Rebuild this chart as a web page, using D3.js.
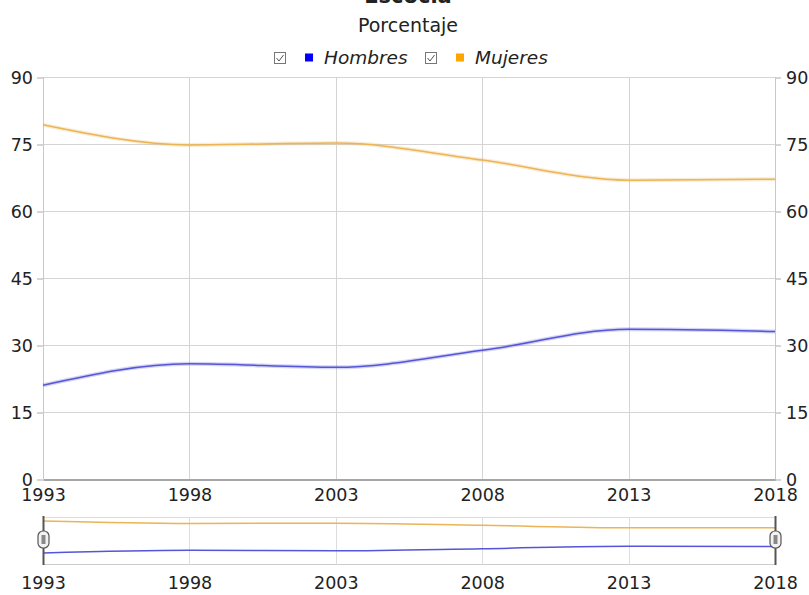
<!DOCTYPE html>
<html>
<head>
<meta charset="utf-8">
<script src="https://cdn.jsdelivr.net/npm/d3@7"></script>
<style>
  body { margin: 0; background: #fff; }
  text { font-family: "DejaVu Sans", Verdana, sans-serif; fill: #222; }
</style>
</head>
<body>
<div id="chart"></div>
<script>
var years = [1993, 1998, 2003, 2008, 2013, 2018];
var hombres = [21.0, 25.8, 25.0, 28.8, 33.5, 33.0];
var mujeres = [79.3, 74.8, 75.2, 71.4, 66.9, 67.1];
var yTicks = [0, 15, 30, 45, 60, 75, 90];
var seriesNames = ["Hombres", "Mujeres"];
var seriesColors = ["#0000ff", "#ffa500"];
var lineColors = ["#5555d8", "#ebb454"];

var svgWidth = 809, svgHeight = 595;
var svg = d3.select("#chart").append("svg")
  .attr("width", svgWidth)
  .attr("height", svgHeight);

var x = d3.scaleLinear().domain([1993, 2018]).range([43, 775]);
var y = d3.scaleLinear().domain([0, 90]).range([479, 77]);

// title (cut at top) and subtitle
svg.append("text").attr("x", 408).attr("y", 3)
  .attr("text-anchor", "middle").attr("font-size", 21).attr("font-weight", "bold")
  .text("Escocia");
svg.append("text").attr("x", 408).attr("y", 32)
  .attr("text-anchor", "middle").attr("font-size", 19)
  .text("Porcentaje");

// legend
var legendX = [274, 425];
seriesNames.forEach(function(name, i) {
  var g = svg.append("g").attr("transform", `translate(${legendX[i]}, 52)`);
  g.append("rect").attr("x", 0.5).attr("y", 0.5).attr("width", 11).attr("height", 11)
    .attr("fill", "#fff").attr("stroke", "#777");
  g.append("path").attr("d", "M2.5,6 L5,9 L9.5,3")
    .attr("fill", "none").attr("stroke", "#555").attr("stroke-width", 1);
  g.append("rect").attr("x", 31).attr("y", 1.5).attr("width", 8).attr("height", 8)
    .attr("fill", seriesColors[i]);
  g.append("text").attr("x", 50).attr("y", 12)
    .attr("font-size", 18.5).attr("font-style", "italic").text(name);
});

// grid
var grid = svg.append("g");
grid.selectAll(".hg").data(yTicks.slice(1)).enter().append("line")
  .attr("x1", 43).attr("x2", 775)
  .attr("y1", d => y(d) + 0.5).attr("y2", d => y(d) + 0.5)
  .attr("stroke", "#d4d4d4");
grid.selectAll(".vg").data(years).enter().append("line")
  .attr("x1", d => Math.round(x(d)) + 0.5).attr("x2", d => Math.round(x(d)) + 0.5)
  .attr("y1", 77).attr("y2", 479)
  .attr("stroke", "#d4d4d4");

// axes
var leftAxis = d3.axisLeft(y).tickValues(yTicks).tickSize(6).tickPadding(4);
var rightAxis = d3.axisRight(y).tickValues(yTicks).tickSize(6).tickPadding(5);
var bottomAxis = d3.axisBottom(x).tickValues(years).tickFormat(d3.format("d")).tickSize(0).tickPadding(9);

function styleAxis(g) {
  g.select(".domain").attr("stroke", "#c8c8c8");
  g.selectAll(".tick line").attr("stroke", "#aaa");
  g.selectAll(".tick text").attr("font-size", 17.5).attr("fill", "#222")
    .attr("font-family", "DejaVu Sans, Verdana, sans-serif");
}
svg.append("g").attr("transform", "translate(43,0.5)").call(leftAxis).call(styleAxis)
  .call(g => g.select(".domain").remove());
svg.append("g").attr("transform", "translate(775,0.5)").call(rightAxis).call(styleAxis)
  .call(g => g.select(".domain").remove());
svg.append("line").attr("x1", 43.5).attr("x2", 43.5).attr("y1", 77).attr("y2", 479).attr("stroke", "#c8c8c8");
svg.append("line").attr("x1", 775.5).attr("x2", 775.5).attr("y1", 77).attr("y2", 479).attr("stroke", "#c8c8c8");
svg.append("g").attr("transform", "translate(0,479.5)").call(bottomAxis).call(styleAxis)
  .call(g => g.select(".domain").attr("stroke", "#888").attr("stroke-width", 1.5));

// lines
var data = [hombres, mujeres];
var line = d3.line()
  .x((d, i) => x(years[i]))
  .y(d => y(d))
  .curve(d3.curveMonotoneX);
data.forEach(function(s, i) {
  svg.append("path").datum(s).attr("d", line)
    .attr("fill", "none").attr("stroke", lineColors[i]).attr("stroke-opacity", 0.25)
    .attr("stroke-width", 4);
  svg.append("path").datum(s).attr("d", line)
    .attr("fill", "none").attr("stroke", lineColors[i]).attr("stroke-width", 1.5);
});

// navigator
var allVals = hombres.concat(mujeres);
var yNav = d3.scaleLinear().domain(d3.extent(allVals)).range([553, 521]);
var navLine = d3.line()
  .x((d, i) => x(years[i]))
  .y(d => yNav(d))
  .curve(d3.curveMonotoneX);
svg.append("line").attr("x1", 43).attr("x2", 775).attr("y1", 517.5).attr("y2", 517.5).attr("stroke", "#ddd");
svg.append("line").attr("x1", 43).attr("x2", 775).attr("y1", 564.5).attr("y2", 564.5).attr("stroke", "#ccc");
svg.selectAll(".navgrid").data(years).enter().append("line")
  .attr("x1", d => Math.round(x(d)) + 0.5).attr("x2", d => Math.round(x(d)) + 0.5)
  .attr("y1", 517).attr("y2", 565).attr("stroke", "#ddd");
data.forEach(function(s, i) {
  svg.append("path").datum(s).attr("d", navLine)
    .attr("fill", "none").attr("stroke", lineColors[i]).attr("stroke-width", 1.5);
});
[1993, 2018].forEach(function(yr) {
  var hx = x(yr);
  svg.append("line").attr("x1", hx + 0.5).attr("x2", hx + 0.5).attr("y1", 516).attr("y2", 565)
    .attr("stroke", "#555").attr("stroke-width", 2);
  svg.append("rect").attr("x", hx - 5).attr("y", 531).attr("width", 11).attr("height", 17)
    .attr("rx", 5).attr("fill", "#f2f2f2").attr("stroke", "#555").attr("stroke-width", 1.2);
  svg.append("rect").attr("x", hx - 1.5).attr("y", 535).attr("width", 4).attr("height", 9)
    .attr("fill", "#888");
});
var navAxis = d3.axisBottom(x).tickValues(years).tickFormat(d3.format("d")).tickSize(0).tickPadding(10);
svg.append("g").attr("transform", "translate(0,567)").call(navAxis).call(styleAxis)
  .call(g => g.select(".domain").remove());
</script>
</body>
</html>
